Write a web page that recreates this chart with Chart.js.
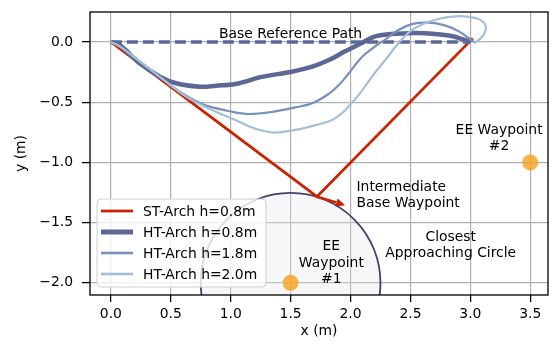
<!DOCTYPE html>
<html><head><meta charset="utf-8">
<script src="https://cdn.jsdelivr.net/npm/chart.js@4.4.0/dist/chart.umd.min.js"></script>
<style>html,body{margin:0;padding:0;background:#fff}#wrap{width:556px;height:348px}</style>
</head><body><div id="wrap"><canvas id="c" width="556" height="348"></canvas></div>
<script>
// ---- data ----
const xTicks = [0, 0.5, 1.0, 1.5, 2.0, 2.5, 3.0, 3.5];
const yTicks = [-2.0, -1.5, -1.0, -0.5, 0.0];
const seriesLabels = ['ST-Arch h=0.8m', 'HT-Arch h=0.8m', 'HT-Arch h=1.8m', 'HT-Arch h=2.0m'];

const stX = [0, 1.72, 3.02];
const stY = [0, -1.285, 0.03];

const ht08X = [0, 0.08, 0.24, 0.41, 0.545, 0.74, 0.88, 1.04, 1.26, 1.51, 1.68, 1.82, 1.95, 2.09, 2.2, 2.34, 2.48, 2.62, 2.75, 2.86, 3.0];
const ht08Y = [0, -0.03, -0.177, -0.288, -0.343, -0.371, -0.363, -0.349, -0.29, -0.247, -0.205, -0.15, -0.08, -0.011, 0.044, 0.066, 0.073, 0.072, 0.062, 0.046, 0.0];

const ht18X = [0, 0.08, 0.2, 0.35, 0.5, 0.6, 0.7, 0.82, 0.99, 1.15, 1.35, 1.54, 1.68, 1.82, 1.9, 1.97, 2.09, 2.2, 2.29, 2.4, 2.52, 2.65, 2.78, 2.9, 3.03];
const ht18Y = [0, -0.04, -0.13, -0.245, -0.36, -0.43, -0.485, -0.535, -0.575, -0.598, -0.58, -0.543, -0.509, -0.43, -0.36, -0.28, -0.13, -0.04, 0.02, 0.1, 0.15, 0.16, 0.14, 0.09, 0.0];

const ht20X = [0, 0.08, 0.2, 0.35, 0.5, 0.6, 0.7, 0.8, 0.9, 1.04, 1.15, 1.26, 1.37, 1.54, 1.71, 1.84, 1.93, 1.99, 2.06, 2.12, 2.2, 2.29, 2.4, 2.5, 2.62, 2.75, 2.88, 2.98, 3.07, 3.125, 3.12, 3.08, 3.03];
const ht20Y = [0, -0.04, -0.13, -0.245, -0.36, -0.435, -0.495, -0.545, -0.59, -0.648, -0.7, -0.735, -0.752, -0.73, -0.69, -0.65, -0.59, -0.53, -0.45, -0.37, -0.26, -0.15, -0.01, 0.09, 0.155, 0.195, 0.213, 0.21, 0.19, 0.14, 0.075, 0.025, -0.01];

const baseRefX = [0, 3.0];
const baseRefY = [0, 0];

const eeX = [1.5, 3.5];
const eeY = [-2.0, -1.0];

const circleCenter = [1.5, -2.0];
const circleRadius = 0.75;

const arrowFrom = [1.72, -1.285];
const arrowTo = [1.955, -1.355];

const annoTexts = [['Base Reference Path'], ['EE Waypoint', '#2'], ['Intermediate', 'Base Waypoint'], ['EE', 'Waypoint', '#1'], ['Closest', 'Approaching Circle']];
const annoX = [1.5, 3.24, 2.05, 1.84, 2.836];
const annoY = [0.031, -0.760, -1.236, -1.728, -1.651];
const annoAlign = ['center', 'center', 'left', 'center', 'center'];

// ---- helpers ----
const zip = (xs, ys) => xs.map((x, i) => ({x: x, y: ys[i]}));
const FONT = 'DejaVu Sans';
const FS = 13.9;
const fmt = v => (Math.round(v * 10) / 10).toFixed(1).replace('-', '\u2212');

const COL_RED = '#cc2200', COL_THICK = '#5b6896', COL_MED = '#7890bd', COL_LIGHT = '#a3c0d8';

const datasets = [
  {label: 'ee', data: zip(eeX, eeY), showLine: false, pointRadius: 8, pointHoverRadius: 8, pointBorderWidth: 0,
   backgroundColor: 'rgba(246,166,40,0.85)', borderColor: 'rgba(246,166,40,0.85)', order: 0},
  {label: seriesLabels[3], data: zip(ht20X, ht20Y), showLine: true, borderColor: COL_LIGHT, borderWidth: 2.2, tension: 0.35, pointRadius: 0, order: 1},
  {label: seriesLabels[2], data: zip(ht18X, ht18Y), showLine: true, borderColor: COL_MED, borderWidth: 2.2, tension: 0.35, pointRadius: 0, order: 2},
  {label: seriesLabels[1], data: zip(ht08X, ht08Y), showLine: true, borderColor: COL_THICK, borderWidth: 4.5, tension: 0.35, pointRadius: 0, order: 3},
  {label: 'base', data: zip(baseRefX, baseRefY), showLine: true, borderColor: COL_THICK, borderWidth: 3.3, borderDash: [11, 5], pointRadius: 0, order: 4},
  {label: seriesLabels[0], data: zip(stX, stY), showLine: true, borderColor: COL_RED, borderWidth: 2.8, tension: 0, pointRadius: 0, order: 5}
];

const legendItems = [
  {text: seriesLabels[0], color: COL_RED, width: 2.8},
  {text: seriesLabels[1], color: COL_THICK, width: 5},
  {text: seriesLabels[2], color: COL_MED, width: 2.6},
  {text: seriesLabels[3], color: COL_LIGHT, width: 2.6}
];

const decor = {
  id: 'decor',
  beforeDatasetsDraw(chart) {
    const {ctx, chartArea: a, scales: {x, y}} = chart;
    ctx.save();
    ctx.beginPath();
    ctx.rect(a.left, a.top, a.right - a.left, a.bottom - a.top);
    ctx.clip();
    const cx = x.getPixelForValue(circleCenter[0]);
    const cy = y.getPixelForValue(circleCenter[1]);
    const r = x.getPixelForValue(circleCenter[0] + circleRadius) - cx;
    ctx.beginPath();
    ctx.arc(cx, cy, r, 0, Math.PI * 2);
    ctx.fillStyle = 'rgba(228,228,236,0.3)';
    ctx.fill();
    ctx.lineWidth = 1.8;
    ctx.strokeStyle = '#41416f';
    ctx.stroke();
    ctx.restore();
  },
  afterDatasetsDraw(chart) {
    const {ctx, chartArea: a, scales: {x, y}} = chart;
    ctx.save();
    // arrow
    const x0 = x.getPixelForValue(arrowFrom[0]), y0 = y.getPixelForValue(arrowFrom[1]);
    const x1 = x.getPixelForValue(arrowTo[0]), y1 = y.getPixelForValue(arrowTo[1]);
    const ang = Math.atan2(y1 - y0, x1 - x0);
    const hl = 9, hw = 4.2;
    const bx = x1 - hl * Math.cos(ang), by = y1 - hl * Math.sin(ang);
    ctx.strokeStyle = COL_RED; ctx.fillStyle = COL_RED; ctx.lineWidth = 2.6; ctx.lineCap = 'butt';
    ctx.beginPath(); ctx.moveTo(x0, y0); ctx.lineTo(bx, by); ctx.stroke();
    ctx.beginPath();
    ctx.moveTo(x1, y1);
    ctx.lineTo(bx + hw * Math.sin(ang), by - hw * Math.cos(ang));
    ctx.lineTo(bx - hw * Math.sin(ang), by + hw * Math.cos(ang));
    ctx.closePath(); ctx.fill();

    // annotations
    ctx.font = FS + 'px "' + FONT + '"';
    ctx.fillStyle = '#000';
    ctx.textBaseline = 'alphabetic';
    annoTexts.forEach((lines, i) => {
      const px = x.getPixelForValue(annoX[i]);
      const py = y.getPixelForValue(annoY[i]);
      ctx.textAlign = annoAlign[i];
      lines.forEach((t, j) => ctx.fillText(t, px, py + j * 16.6));
    });

    // legend
    const lx = a.left + 7, ly = a.bottom - 96, lw = 169, lh = 88, rr = 4;
    ctx.beginPath();
    ctx.moveTo(lx + rr, ly);
    ctx.arcTo(lx + lw, ly, lx + lw, ly + lh, rr);
    ctx.arcTo(lx + lw, ly + lh, lx, ly + lh, rr);
    ctx.arcTo(lx, ly + lh, lx, ly, rr);
    ctx.arcTo(lx, ly, lx + lw, ly, rr);
    ctx.closePath();
    ctx.fillStyle = 'rgba(255,255,255,0.8)';
    ctx.fill();
    ctx.strokeStyle = '#d0d0d0'; ctx.lineWidth = 1;
    ctx.stroke();
    ctx.textAlign = 'left'; ctx.textBaseline = 'middle';
    legendItems.forEach((it, i) => {
      const ry = ly + 12 + i * 21;
      ctx.strokeStyle = it.color; ctx.lineWidth = it.width;
      ctx.beginPath(); ctx.moveTo(lx + 4, ry); ctx.lineTo(lx + 36, ry); ctx.stroke();
      ctx.fillStyle = '#000';
      ctx.fillText(it.text, lx + 46, ry + 1);
    });

    // frame
    ctx.strokeStyle = '#000'; ctx.lineWidth = 1.3;
    ctx.strokeRect(a.left, a.top, a.right - a.left, a.bottom - a.top);
    ctx.restore();
  }
};

const fontObj = {family: FONT, size: FS};

new Chart(document.getElementById('c'), {
  type: 'scatter',
  data: {datasets: datasets},
  options: {
    responsive: false,
    animation: false,
    devicePixelRatio: 1,
    layout: {padding: {left: 0, right: 5, top: 12, bottom: 0}},
    plugins: {legend: {display: false}, tooltip: {enabled: false}},
    scales: {
      x: {
        type: 'linear', min: -0.174, max: 3.648,
        afterBuildTicks: s => { s.ticks = xTicks.map(v => ({value: v})); },
        afterFit: s => { s.height = 53; s.paddingLeft = 0; s.paddingRight = 0; s.paddingTop = 0; s.paddingBottom = 0; },
        ticks: {callback: v => fmt(v), font: fontObj, color: '#000', padding: 4, maxRotation: 0, autoSkip: false},
        grid: {color: '#b0b0b0', lineWidth: 1.2, tickLength: 7, tickColor: '#000', tickWidth: 1.3},
        border: {display: false},
        title: {display: true, text: 'x (m)', font: fontObj, color: '#000', padding: {top: 0, bottom: 8}}
      },
      y: {
        type: 'linear', min: -2.101, max: 0.249,
        afterBuildTicks: s => { s.ticks = yTicks.map(v => ({value: v})); },
        afterFit: s => { s.width = 90; s.paddingLeft = 0; s.paddingRight = 0; s.paddingTop = 0; s.paddingBottom = 0; },
        ticks: {callback: v => fmt(v), font: fontObj, color: '#000', padding: 9, autoSkip: false},
        grid: {color: '#b0b0b0', lineWidth: 1.2, tickLength: 8, tickColor: '#000', tickWidth: 1.3},
        border: {display: false},
        title: {display: true, text: 'y (m)', font: fontObj, color: '#000', padding: {top: 13, bottom: 0}}
      }
    }
  },
  plugins: [decor]
});
</script></body></html>
